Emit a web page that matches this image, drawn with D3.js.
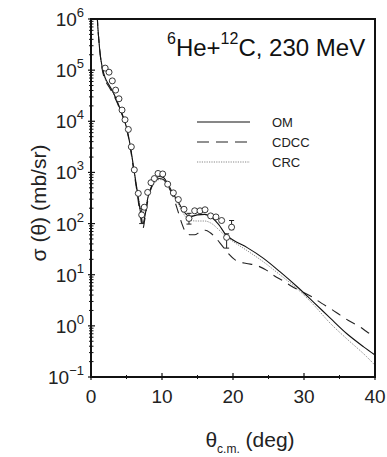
<!DOCTYPE html>
<html><head><meta charset="utf-8">
<script src="https://cdn.jsdelivr.net/npm/d3@7"></script>
<style>body{margin:0;background:#fff;}svg{display:block;font-family:"Liberation Sans",Arial,sans-serif;}</style>
</head><body><svg id="c" width="387" height="457"></svg>
<script>
// ---- data (theta in deg, log10 sigma in mb/sr) ----
const omTheta  = [0.8,0.9,1.1,1.3,1.6,2.0,2.5,3.0,3.5,4.0,4.5,5.0,5.5,6.0,6.5,7.0,7.3,7.6,8.0,8.5,9.0,9.6,10.2,10.8,11.5,12.3,13.0,13.5,14.0,15.0,16.0,17.0,18.0,19.0,20.0,22.0,24.3,26.6,29.0,31.3,33.7,36.0,38.4,40.0];
const omLog    = [6.4,6.0,5.6,5.3,5.05,4.85,4.72,4.6,4.45,4.28,4.1,3.88,3.55,3.1,2.65,2.2,2.0,2.15,2.5,2.72,2.85,2.92,2.9,2.78,2.6,2.42,2.25,2.17,2.14,2.17,2.18,2.12,1.98,1.78,1.68,1.53,1.32,1.06,0.77,0.47,0.15,-0.15,-0.41,-0.57];
const cdccTheta= [0.8,0.9,1.1,1.3,1.6,2.0,2.5,3.0,3.5,4.0,4.5,5.0,5.5,6.0,6.5,7.0,7.3,7.6,8.0,8.5,9.0,9.6,10.2,10.8,11.5,12.3,12.8,13.3,14.0,14.6,15.3,16.1,16.8,17.5,18.4,19.3,20.3,21.9,23.1,24.7,25.7,27.3,28.3,29.7,31.1,32.5,33.7,35.1,36.2,37.9,38.8,40.0];
const cdccLog  = [6.4,6.0,5.6,5.3,5.0,4.8,4.68,4.56,4.42,4.26,4.08,3.86,3.52,3.05,2.6,2.1,1.9,2.1,2.45,2.7,2.82,2.88,2.86,2.74,2.55,2.22,2.0,1.84,1.78,1.78,1.83,1.87,1.82,1.73,1.58,1.42,1.29,1.22,1.19,1.09,0.99,0.86,0.77,0.67,0.57,0.44,0.34,0.21,0.11,-0.02,-0.11,-0.22];
const crcTheta = [0.8,0.9,1.1,1.3,1.6,2.0,2.5,3.0,3.5,4.0,4.5,5.0,5.5,6.0,6.5,7.0,7.3,7.6,8.0,8.5,9.0,9.6,10.2,10.8,11.5,12.3,13.0,13.5,14.0,15.0,16.0,17.0,18.0,19.0,20.0,22.0,24.3,26.6,29.0,31.3,33.7,36.0,38.8,40.0];
const crcLog   = [6.4,6.0,5.6,5.3,5.02,4.82,4.7,4.58,4.44,4.27,4.09,3.87,3.53,3.08,2.65,2.3,2.2,2.3,2.5,2.68,2.8,2.86,2.85,2.74,2.56,2.38,2.2,2.1,2.06,2.05,2.05,2.0,1.88,1.75,1.65,1.47,1.25,1.0,0.73,0.42,0.05,-0.25,-0.6,-0.77];
const expTheta = [2.0,2.54,3.0,3.47,3.94,4.37,4.79,5.26,5.68,6.1,6.66,7.14,7.5,7.98,8.45,8.92,9.44,10.1,10.8,11.6,12.3,13.1,13.8,14.6,15.35,16.06,16.85,17.6,18.4,19.1,19.8];
const expLog   = [5.04,4.96,4.79,4.61,4.44,4.22,4.03,3.84,3.5,3.05,2.59,2.17,2.32,2.61,2.8,2.88,2.98,2.97,2.77,2.6,2.47,2.28,2.1,2.25,2.25,2.27,2.15,2.13,2.06,1.73,1.93];
const errTheta = [7.14,13.8,19.1,19.8];
const errLo    = [2.0,1.99,1.52,1.88];
const errHi    = [2.3,2.2,1.8,2.06];
const xTicks = [0,10,20,30,40];
const yExp = [-1,0,1,2,3,4,5,6];
const legendNames = ["OM","CDCC","CRC"];

const svg = d3.select("#c");
const L=91,R=375,T=19,B=377;
const x = d3.scaleLinear().domain([0,40]).range([L,R]);
const y = d3.scaleLog().domain([0.1,1e6]).range([B,T]);

svg.append("defs").append("clipPath").attr("id","clip")
  .append("rect").attr("x",L).attr("y",T).attr("width",R-L).attr("height",B-T);

const line = d3.line().x(d=>x(d[0])).y(d=>y(Math.pow(10,d[1]))).curve(d3.curveMonotoneX);
const g = svg.append("g").attr("clip-path","url(#clip)");
const series = [
  {t:crcTheta,v:crcLog,stroke:"#888",dash:"1.2,1.2",w:1},
  {t:cdccTheta,v:cdccLog,stroke:"#222",dash:"10,7",w:1.1},
  {t:omTheta,v:omLog,stroke:"#111",dash:null,w:1.1}
];
series.forEach(s=>{
  g.append("path").datum(s.t.map((t,i)=>[t,s.v[i]]))
   .attr("d",line).attr("fill","none").attr("stroke",s.stroke)
   .attr("stroke-width",s.w).attr("stroke-dasharray",s.dash);
});

// error bars
errTheta.forEach((t,i)=>{
  const xp=x(t);
  g.append("line").attr("x1",xp).attr("x2",xp).attr("y1",y(Math.pow(10,errLo[i]))).attr("y2",y(Math.pow(10,errHi[i]))).attr("stroke","#222").attr("stroke-width",1);
  [errLo[i],errHi[i]].forEach(v=>g.append("line").attr("x1",xp-2.5).attr("x2",xp+2.5).attr("y1",y(Math.pow(10,v))).attr("y2",y(Math.pow(10,v))).attr("stroke","#222"));
});
// data points
g.selectAll("circle.d").data(expTheta.map((t,i)=>[t,expLog[i]])).enter().append("circle")
  .attr("cx",d=>x(d[0])).attr("cy",d=>y(Math.pow(10,d[1]))).attr("r",3)
  .attr("fill","#fff").attr("stroke","#222").attr("stroke-width",0.9);

// frame
svg.append("rect").attr("x",L).attr("y",T).attr("width",R-L).attr("height",B-T)
  .attr("fill","none").attr("stroke","#111").attr("stroke-width",2);

// y ticks
const yMinor=[];
for(let e=-1;e<6;e++) for(let k=2;k<=9;k++) yMinor.push(k*Math.pow(10,e));
svg.selectAll("line.ym").data(yMinor).enter().append("line")
  .attr("x1",L-2).attr("x2",L+2.5).attr("y1",d=>y(d)).attr("y2",d=>y(d)).attr("stroke","#111").attr("stroke-width",1);
svg.selectAll("line.yM").data(yExp).enter().append("line")
  .attr("x1",L-3).attr("x2",L+4).attr("y1",d=>y(Math.pow(10,d))).attr("y2",d=>y(Math.pow(10,d))).attr("stroke","#111").attr("stroke-width",1.2);
const yl = svg.selectAll("text.yl").data(yExp).enter().append("text")
  .attr("x",L-7).attr("y",d=>y(Math.pow(10,d))+7).attr("text-anchor","end")
  .attr("font-size",19).attr("fill","#222");
yl.append("tspan").text("10");
yl.append("tspan").attr("dy",-9).attr("font-size",13).text(d=>d<0?"\u22121":d);

// x ticks
const xMinor=[5,15,25,35];
svg.selectAll("line.xm").data(xMinor).enter().append("line")
  .attr("x1",d=>x(d)).attr("x2",d=>x(d)).attr("y1",B-2).attr("y2",B+2).attr("stroke","#111");
svg.selectAll("line.xM").data(xTicks).enter().append("line")
  .attr("x1",d=>x(d)).attr("x2",d=>x(d)).attr("y1",B-4).attr("y2",B+3).attr("stroke","#111").attr("stroke-width",1.2);
svg.selectAll("text.xl").data(xTicks).enter().append("text")
  .attr("x",d=>x(d)).attr("y",B+26).attr("text-anchor","middle")
  .attr("font-size",19).attr("fill","#222").text(d=>d);

// axis titles
const xt = svg.append("text").attr("x",250).attr("y",447).attr("text-anchor","middle").attr("font-size",21).attr("fill","#222");
xt.append("tspan").text("\u03b8");
xt.append("tspan").attr("dy",6).attr("font-size",12).text("c.m.");
xt.append("tspan").attr("dy",-6).text(" (deg)");
svg.append("text").attr("transform","translate(46,203) rotate(-90)").attr("text-anchor","middle")
  .attr("font-size",21).attr("fill","#222").text("\u03c3 (\u03b8) (mb/sr)");

// annotation
const an = svg.append("text").attr("x",167).attr("y",56).attr("font-size",24).attr("fill","#111");
an.append("tspan").attr("dy",-12).attr("font-size",16).text("6");
an.append("tspan").attr("dy",12).text("He+");
an.append("tspan").attr("dy",-12).attr("font-size",16).text("12");
an.append("tspan").attr("dy",12).text("C, 230 MeV");

// legend
const lg=[{s:"#111",d:null},{s:"#222",d:"12,7"},{s:"#888",d:"1.2,1.2"}];
legendNames.forEach((n,i)=>{
  const yy=122+i*20;
  svg.append("line").attr("x1",197).attr("x2",250).attr("y1",yy).attr("y2",yy)
    .attr("stroke",lg[i].s).attr("stroke-width",1.1).attr("stroke-dasharray",lg[i].d);
  svg.append("text").attr("x",272).attr("y",yy+5).attr("font-size",13).attr("fill","#222").text(n);
});
</script></body></html>
